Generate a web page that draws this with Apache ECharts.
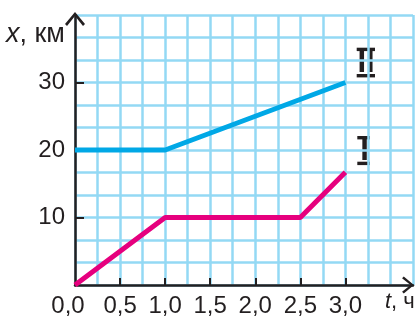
<!DOCTYPE html>
<html><head><meta charset="utf-8">
<script src="https://cdn.jsdelivr.net/npm/echarts@6/dist/echarts.min.js"></script>
<style>html,body{margin:0;padding:0;background:#fff}#c{width:420px;height:320px}</style>
</head><body><div id="c"></div>
<script>
// data
const seriesI = [[0, 0], [1, 10], [2.5, 10], [3, 16.7]];
const seriesII = [[0, 20], [1, 20], [3, 30]];
const xTickLabels = [0, 0.5, 1, 1.5, 2, 2.5, 3];
const yTickLabels = [10, 20, 30];
const xName = 't';
const xUnit = ', ч';
const yName = 'x';
const yUnit = ', км';
const seriesNames = ['I', 'II'];

const FONT = 'Liberation Sans';
const BLACK = '#231f20';
const GRID = '#93d9f4';
const arrowPath = 'path://M10,0 L20,12 L18,14 L10,4 L2,14 L0,12 Z';
const X_MAX = 3.75, Y_MAX = 40;

function numeral(text, cx, cy, barLeft, barWidth, topY, botY) {
  return {
    type: 'group', children: [
      {type: 'text', x: cx, y: cy, style: {text: text, fontFamily: FONT, fontWeight: 'bold', fontSize: 31, fill: BLACK,
        align: 'center', verticalAlign: 'middle'}},
      {type: 'rect', shape: {x: barLeft, y: topY, width: barWidth, height: 3.4}, style: {fill: BLACK}},
      {type: 'rect', shape: {x: barLeft, y: botY, width: barWidth, height: 3.4}, style: {fill: BLACK}}
    ]
  };
}

const chart = echarts.init(document.getElementById('c'), null, {renderer: 'canvas'});
chart.setOption({
  animation: false,
  backgroundColor: '#fff',
  grid: {left: 75, right: 7, top: 15, bottom: 35, containLabel: false},
  xAxis: [{
    type: 'value', min: 0, max: X_MAX, interval: 0.25,
    splitLine: {show: true, lineStyle: {color: GRID, width: 2.5}},
    axisLine: {show: false}, axisTick: {show: false}, axisLabel: {show: false}
  }, {
    type: 'value', min: 0, max: X_MAX, position: 'bottom',
    splitLine: {show: false},
    axisLine: {show: true, onZero: false, lineStyle: {color: BLACK, width: 2.5},
      symbol: ['none', arrowPath], symbolSize: [17, 14], symbolOffset: [0, -5]},
    axisTick: {show: true, inside: true, length: 7, lineStyle: {color: BLACK, width: 2},
      customValues: xTickLabels.filter(v => v > 0)},
    axisLabel: {show: true, customValues: xTickLabels, margin: 9,
      fontFamily: FONT, fontSize: 24, color: BLACK,
      formatter: v => v === 0 ? '{z|0,0}' : v.toFixed(1).replace('.', ','),
      rich: {z: {fontFamily: FONT, fontSize: 24, color: BLACK, padding: [0, 14, 0, 0]}}}
  }],
  yAxis: [{
    type: 'value', min: 0, max: Y_MAX, interval: 10 / 3,
    splitLine: {show: true, lineStyle: {color: GRID, width: 2.5}},
    axisLine: {show: false}, axisTick: {show: false}, axisLabel: {show: false}
  }, {
    type: 'value', min: 0, max: Y_MAX, position: 'left',
    splitLine: {show: false},
    axisLine: {show: true, onZero: false, lineStyle: {color: BLACK, width: 2.5},
      symbol: ['none', arrowPath], symbolSize: [20, 14], symbolOffset: [0, -4]},
    axisTick: {show: true, inside: true, length: 9, lineStyle: {color: BLACK, width: 2},
      customValues: yTickLabels},
    axisLabel: {show: true, customValues: yTickLabels, margin: 10,
      fontFamily: FONT, fontSize: 24, color: BLACK}
  }],
  series: [
    {name: seriesNames[1], type: 'line', xAxisIndex: 1, yAxisIndex: 1, data: seriesII, symbol: 'none', lineStyle: {color: '#00a8e6', width: 5}, z: 5},
    {name: seriesNames[0], type: 'line', xAxisIndex: 1, yAxisIndex: 1, data: seriesI, symbol: 'none', lineStyle: {color: '#e6007e', width: 5}, z: 6}
  ],
  graphic: [
    {type: 'text', left: 6, top: 21, style: {
      text: '{i|' + yName + '}' + yUnit, fontFamily: FONT, fontSize: 27, fill: BLACK,
      rich: {i: {fontFamily: FONT, fontStyle: 'italic', fontSize: 27, fill: BLACK}}}},
    {type: 'text', left: 385, top: 291, style: {
      text: '{i|' + xName + '}' + xUnit, fontFamily: FONT, fontSize: 22, fill: BLACK,
      rich: {i: {fontFamily: FONT, fontStyle: 'italic', fontSize: 22, fill: BLACK}}}},
    numeral(seriesNames[1], 366, 63.5, 356.7, 18.3, 47.7, 74),
    numeral(seriesNames[0], 364.5, 151, 357.3, 12.7, 136, 161.7)
  ]
});
</script></body></html>
